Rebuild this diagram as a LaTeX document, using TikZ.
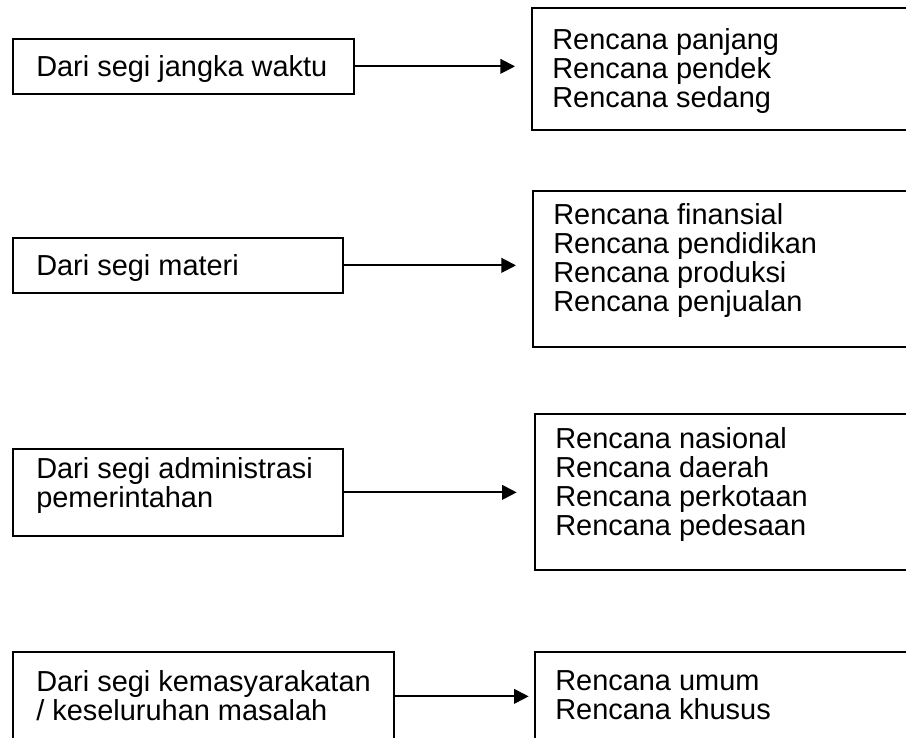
\documentclass[tikz,border=0pt]{standalone}
\usepackage{fontspec}
\setmainfont{Liberation Sans}
\usetikzlibrary{arrows.meta}
\begin{document}
\begin{tikzpicture}[x=0.75pt,y=-0.75pt,
  frame/.style={draw=black, line width=1.3pt, inner sep=0pt, anchor=north west},
  caption/.style={anchor=north west, inner sep=0pt, align=left,
    font=\fontsize{21.7pt}{21.7pt}\selectfont},
  link/.style={draw=black, line width=1.5pt, -{Triangle[length=11pt,width=11pt]}}]
\useasboundingbox (0,0) rectangle (906,738);
\clip (0,0) rectangle (906,738);

% frames: name, left, top, width, height (pixels)
\newcommand\frameat[5]{\node[frame, minimum width=#4*0.75pt, minimum height=#5*0.75pt] (#1) at (#2,#3) {};}

% left column
\frameat{l1}{12}{38}{341}{55}
\frameat{l2}{12}{237}{330}{55}
\frameat{l3}{12}{448}{330}{87}
\frameat{l4}{12}{651}{381}{89}

% right column
\frameat{r1}{531}{7}{380}{122}
\frameat{r2}{532}{190}{380}{156}
\frameat{r3}{534}{413}{380}{156}
\frameat{r4}{534}{651}{380}{100}

% texts of the left column
\node[caption] (t1) at (36,55) {Dari segi jangka waktu};
\node[caption] (t2) at (36,254) {Dari segi materi};
\node[caption] (t3) at (36,457) {Dari segi administrasi\\pemerintahan};
\node[caption] (t4) at (36,670) {Dari segi kemasyarakatan\\/ keseluruhan masalah};

% texts of the right column
\node[caption] (u1) at (552,28) {Rencana panjang\\Rencana pendek\\Rencana sedang};
\node[caption] (u2) at (553,203) {Rencana finansial\\Rencana pendidikan\\Rencana produksi\\Rencana penjualan};
\node[caption] (u3) at (555,427) {Rencana nasional\\Rencana daerah\\Rencana perkotaan\\Rencana pedesaan};
\node[caption] (u4) at (555,670) {Rencana umum\\Rencana khusus};

% connectors
\draw[link, shorten >=12pt] (l1.east) -- (l1.east -| r1.west);
\draw[link, shorten >=12pt] (l2.east) -- (l2.east -| r2.west);
\draw[link, shorten >=13pt] (l3.east) -- (l3.east -| r3.west);
\draw[link, shorten >=4pt] (l4.east) -- (l4.east -| r4.west);
\end{tikzpicture}
\end{document}
